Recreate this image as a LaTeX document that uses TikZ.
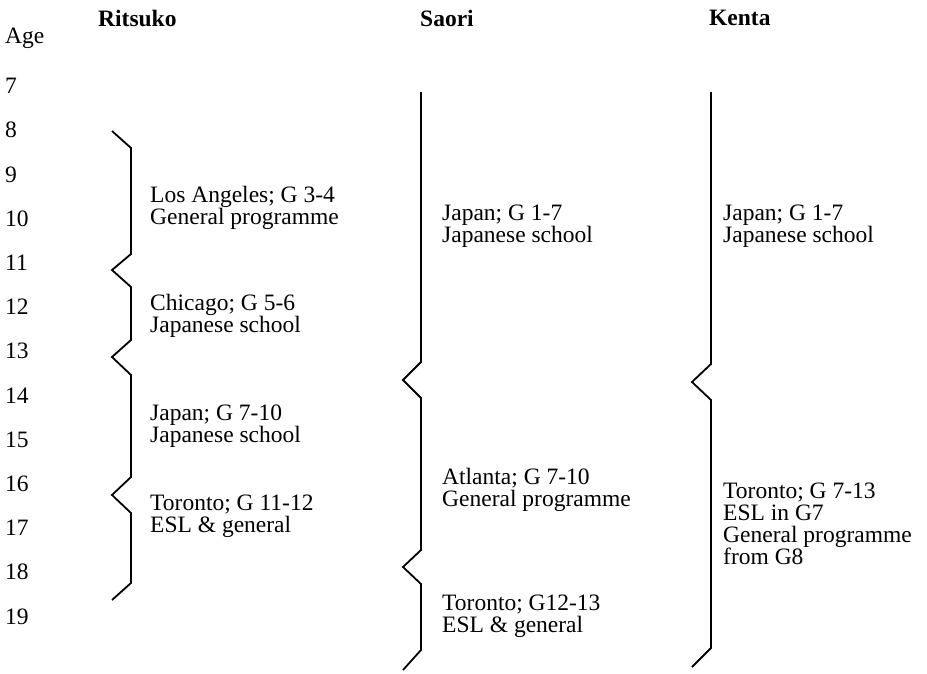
\documentclass[tikz,border=0pt]{standalone}
\usepackage{fontspec}
\setmainfont{Liberation Serif}
\tikzset{
  stay/.style={anchor=west, align=left, inner sep=0pt, font=\fontsize{23.5}{22}\selectfont},
  person/.style={anchor=west, inner sep=0pt, font=\fontsize{23.5}{22}\selectfont\bfseries},
  age/.style={anchor=west, inner sep=0pt, font=\fontsize{23.5}{22}\selectfont},
  bracket/.style={line width=1.8pt, line join=miter}
}
\begin{document}
\begin{tikzpicture}[x=1pt, y=-1pt]
            \useasboundingbox (0, 0) rectangle (927, 673);
            % column heads
            \node (agehead) at (5, 38) [age] {Age};
            \node (ritsuko) at (98, 18) [person] {Ritsuko};
            \node (saori) at (420, 18) [person] {Saori};
            \node (kenta) at (709, 18) [person] {Kenta};
            % ages
            \foreach \a in {7,...,19}
                \node (age\a) at (5, {86+(\a-7)*44.2}) [age] {\a};
            % Ritsuko
            \draw[bracket] (112, 131) -- (131, 148) -- (131, 254) -- (112, 270) -- (131, 287)
                -- (131, 340) -- (112, 357) -- (131, 375) -- (131, 477) -- (112, 495)
                -- (131, 513) -- (131, 583) -- (112, 600);
            \node (rla) at (150, 208) [stay] {Los Angeles; G 3-4\\General programme};
            \node (rch) at (150, 316) [stay] {Chicago; G 5-6\\Japanese school};
            \node (rja) at (150, 426) [stay] {Japan; G 7-10\\Japanese school};
            \node (rto) at (150, 516) [stay] {Toronto; G 11-12\\ESL \& general};
            % Saori
            \draw[bracket] (421, 92) -- (421, 362) -- (403, 380) -- (421, 398) -- (421, 550)
                -- (403, 567) -- (421, 584) -- (421, 650) -- (403, 670);
            \node (sja) at (442, 226) [stay] {Japan; G 1-7\\Japanese school};
            \node (sat) at (442, 490) [stay] {Atlanta; G 7-10\\General programme};
            \node (sto) at (442, 616) [stay] {Toronto; G12-13\\ESL \& general};
            % Kenta
            \draw[bracket] (711, 92) -- (711, 364) -- (692, 382) -- (711, 400) -- (711, 648)
                -- (692, 667);
            \node (kja) at (723, 226) [stay] {Japan; G 1-7\\Japanese school};
            \node (kto) at (723, 524) [stay] {Toronto; G 7-13\\ESL in G7\\General programme\\from G8};
        \end{tikzpicture}
\end{document}
